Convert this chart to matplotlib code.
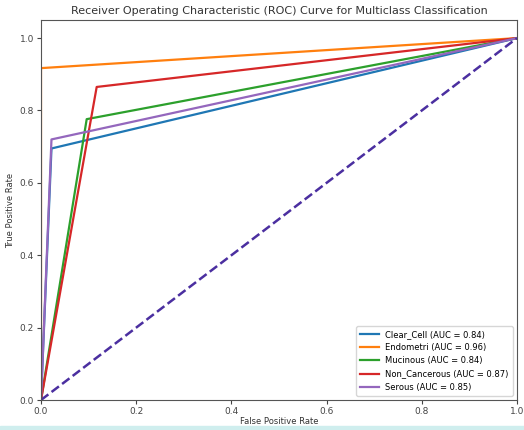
from matplotlib import pyplot as plt
import numpy as np

# class names and AUC values as shown in the legend
classes = ["Clear_Cell", "Endometri", "Mucinous", "Non_Cancerous", "Serous"]
aucs = [0.84, 0.96, 0.84, 0.87, 0.85]
colors = ["#1f77b4", "#ff7f0e", "#2ca02c", "#d62728", "#9467bd"]

# roc points (fpr, tpr)
fpr_clear = [0.0, 0.022, 1.0]
tpr_clear = [0.0, 0.695, 1.0]
fpr_endo = [0.0, 0.0, 1.0]
tpr_endo = [0.0, 0.917, 1.0]
fpr_muc = [0.0, 0.096, 1.0]
tpr_muc = [0.0, 0.776, 1.0]
fpr_non = [0.0, 0.117, 1.0]
tpr_non = [0.0, 0.865, 1.0]
fpr_ser = [0.0, 0.022, 1.0]
tpr_ser = [0.0, 0.72, 1.0]

fprs = [fpr_clear, fpr_endo, fpr_muc, fpr_non, fpr_ser]
tprs = [tpr_clear, tpr_endo, tpr_muc, tpr_non, tpr_ser]

fig = plt.figure(figsize=(5.24, 4.30), dpi=100)
# light teal strip along the bottom of the screenshot
fig.patches.append(plt.Rectangle((0, 0), 1, 4 / 430, transform=fig.transFigure,
                                 color="#cfeeee", zorder=0))
ax = fig.add_axes([41 / 524, 30 / 430, 476 / 524, 380 / 430])

for i in range(len(classes)):
    ax.plot(fprs[i], tprs[i], color=colors[i], lw=1.6,
            label=f"{classes[i]} (AUC = {aucs[i]:.2f})")

ax.plot([0, 1], [0, 1], color="#4b2fa0", lw=1.8, linestyle="--")

ax.set_xlim(0.0, 1.0)
ax.set_ylim(0.0, 1.05)
ax.tick_params(labelsize=6.5, length=3, pad=2, colors="#444444")
ax.set_xlabel("False Positive Rate", fontsize=6, color="#333333", labelpad=1)
ax.set_ylabel("True Positive Rate", fontsize=6, color="#333333", labelpad=3)
ax.set_title("Receiver Operating Characteristic (ROC) Curve for Multiclass Classification",
             fontsize=8, color="#333333", pad=4)
for s in ax.spines.values():
    s.set_color("#555555")

ax.legend(loc="lower right", fontsize=6, frameon=True, handlelength=2.2,
          borderpad=0.5, labelspacing=0.5)

fig.savefig("out.png", dpi=100)
